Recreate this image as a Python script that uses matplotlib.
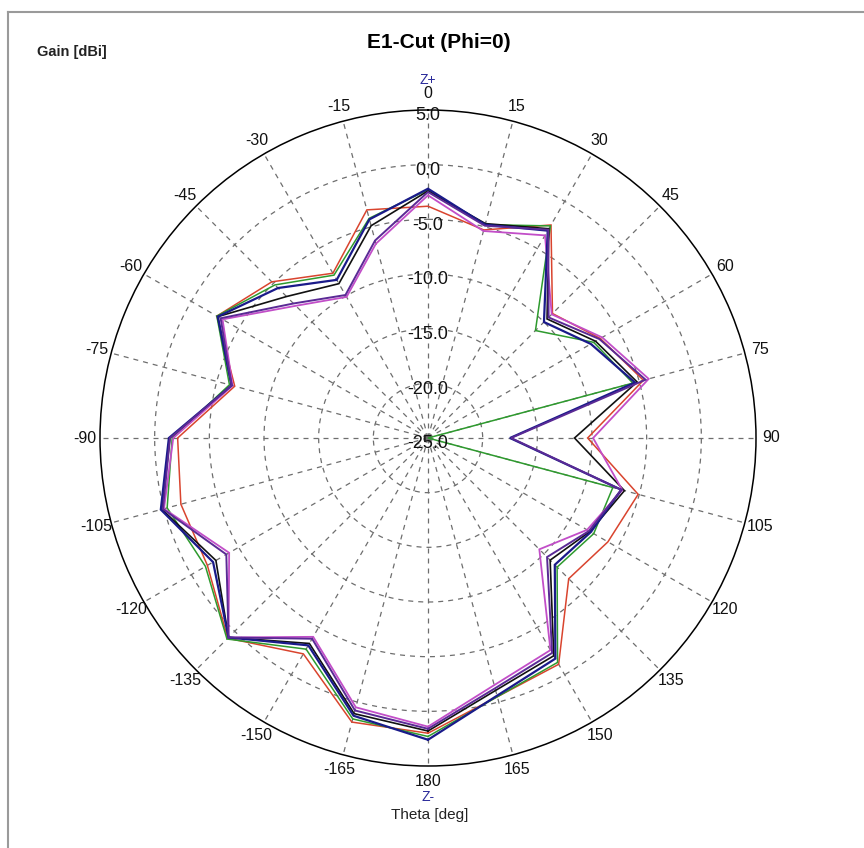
import numpy as np
import matplotlib
matplotlib.use("Agg")
import matplotlib.pyplot as plt
from matplotlib.lines import Line2D
import matplotlib.transforms as mtransforms

plt.rcParams['font.family'] = ['Liberation Sans', 'DejaVu Sans']

# ---- data ----
theta_deg = [-180, -165, -150, -135, -120, -105, -90, -75, -60, -45, -30, -15,
             0, 15, 30, 45, 60, 75, 90, 105, 120, 135, 150, 165, 180]

gain_red = [2.0, 1.9, -2.2, 0.9, -1.7, -1.6, -2.1, -6.7, -2.7, -4.8, -7.6, -3.4,
            -3.8, -5.3, -2.5, -8.9, -6.8, -4.6, -10.4, -5.1, -6.0, -6.8, -1.1, -0.5, 2.0]
gain_green = [2.3, 1.6, -2.7, 1.0, -1.5, -0.3, -1.6, -6.2, -2.7, -5.2, -7.8, -4.2,
              -2.3, -4.8, -2.6, -11.1, -7.5, -5.6, -25.0, -7.5, -7.5, -8.3, -1.3, -0.5, 2.3]
gain_navy = [2.6, 1.3, -3.1, 0.8, -2.3, 0.3, -1.3, -6.4, -2.8, -5.6, -8.3, -4.3,
             -2.2, -4.8, -3.1, -10.0, -7.8, -5.4, -17.5, -6.7, -7.8, -8.6, -1.7, -0.6, 2.6]
gain_black = [1.8, 1.1, -3.3, 0.8, -2.6, 0.2, -1.4, -6.4, -2.8, -6.7, -8.7, -4.9,
              -2.4, -4.7, -2.9, -9.6, -7.3, -5.2, -11.6, -6.4, -7.9, -9.2, -2.0, -1.1, 1.8]
gain_magenta = [1.4, 0.5, -4.0, 0.8, -4.0, 0.0, -1.7, -6.5, -3.3, -7.9, -10.1, -6.6,
                -2.8, -5.4, -3.6, -9.0, -6.6, -4.1, -9.9, -6.6, -8.2, -10.6, -2.6, -1.6, 1.4]
gain_purple = [1.6, 0.8, -3.8, 0.8, -3.7, 0.1, -1.4, -6.4, -3.1, -7.6, -9.9, -6.3,
               -2.5, -4.9, -3.0, -9.4, -6.9, -4.4, -17.4, -6.7, -8.0, -9.6, -2.3, -1.3, 1.6]

ring_values = [5, 0, -5, -10, -15, -20, -25]
ring_labels = ["5.0", "0.0", "-5.0", "-10.0", "-15.0", "-20.0", "-25.0"]
angle_ticks = list(range(0, 360, 15))
angle_labels = ["0", "15", "30", "45", "60", "75", "90", "105", "120", "135", "150", "165",
                "180", "-165", "-150", "-135", "-120", "-105", "-90", "-75", "-60", "-45", "-30", "-15"]

W, H = 864, 848
fig = plt.figure(figsize=(W / 100, H / 100), dpi=100)
fig.patch.set_facecolor('white')

cx, cy, R = 428, 438, 328
ax = fig.add_axes([(cx - R) / W, (H - cy - R) / H, 2 * R / W, 2 * R / H], projection='polar')
ax.set_theta_zero_location('N')
ax.set_theta_direction(-1)
ax.set_rlim(-25, 5)
ax.set_thetagrids(angle_ticks, labels=[''] * len(angle_ticks))
ax.set_rgrids([-20, -15, -10, -5, 0], labels=[''] * 5)
ax.grid(True, color='#6e6e6e', linestyle=(0, (4, 4)), linewidth=0.9)
ax.spines['polar'].set_color('black')
ax.spines['polar'].set_linewidth(1.1)
ax.tick_params(length=0)

th = np.deg2rad(theta_deg)
series = [
    (gain_red, '#d9442e', 1.1),
    (gain_green, '#2e9a2e', 1.1),
    (gain_black, '#111111', 1.2),
    (gain_magenta, '#c24ec8', 1.3),
    (gain_navy, '#1a1a8a', 1.6),
    (gain_purple, '#5a2a95', 1.4),
]
for vals, col, lw in series:
    ax.plot(th, vals, color=col, linewidth=lw, solid_joinstyle='miter')

# ring labels along 0 deg spoke
off = mtransforms.offset_copy(ax.transData, fig=fig, x=0, y=-6, units='dots')
for v, lab in zip(ring_values, ring_labels):
    ax.text(0, v, lab, transform=off, ha='center', va='center', fontsize=13, color='#111111')

# angle labels outside the circle
for a, lab in zip(angle_ticks, angle_labels):
    r_lab = 6.55 if a == 0 else 6.4
    ax.text(np.deg2rad(a), r_lab, lab, ha='center', va='center', fontsize=11.5, color='#111111',
            clip_on=False)

def ftxt(x, y, s, **kw):
    fig.text(x / W, 1 - y / H, s, **kw)

ftxt(439, 43, "E1-Cut (Phi=0)", ha='center', va='center', fontsize=15, fontweight='bold')
ftxt(37, 52, "Gain [dBi]", ha='left', va='center', fontsize=10.5, fontweight='bold', color='#222222')
ftxt(428, 80, "Z+", ha='center', va='center', fontsize=10, color='#2a2a9a')
ftxt(428, 797, "Z-", ha='center', va='center', fontsize=10, color='#2a2a9a')
ftxt(430, 815, "Theta [deg]", ha='center', va='center', fontsize=11, color='#222222')

# window frame
fig.add_artist(Line2D([8 / W, 8 / W], [0, 1 - 12 / H], color='#9a9a9a', linewidth=1.5))
fig.add_artist(Line2D([8 / W, 1], [1 - 12 / H, 1 - 12 / H], color='#9a9a9a', linewidth=1.5))

fig.savefig('out.png', dpi=100)
